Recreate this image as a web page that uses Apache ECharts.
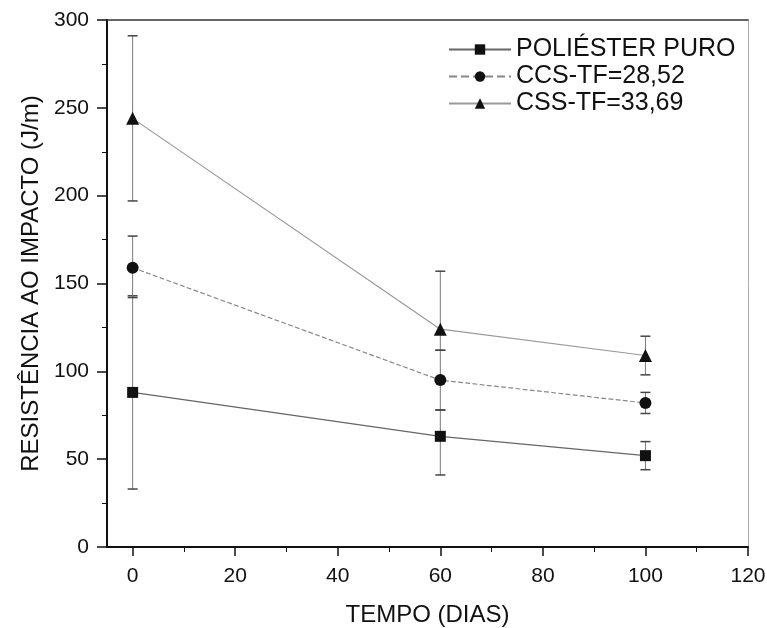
<!DOCTYPE html>
<html>
<head>
<meta charset="utf-8">
<script src="https://cdn.jsdelivr.net/npm/echarts@6/dist/echarts.min.js"></script>
<style>html,body{margin:0;padding:0;background:#fff;}#c{width:767px;height:628px;}</style>
</head>
<body>
<div id="c"></div>
<script>
// Data
const days = [0, 60, 100];
const seriesNames = ['POLIÉSTER PURO', 'CCS-TF=28,52', 'CSS-TF=33,69'];
const puro = [88, 63, 52];
const puroLow = [33, 41, 44];
const puroHigh = [143, 78, 60];
const ccs = [159, 95, 82];
const ccsLow = [142, 78, 76];
const ccsHigh = [177, 112, 88];
const css = [244, 124, 109];
const cssLow = [197, 112, 98];
const cssHigh = [291, 157, 120];
const xTicks = [0, 20, 40, 60, 80, 100, 120];
const xMinorTicks = [10, 30, 50, 70, 90, 110];

const FONT = '"Liberation Sans", Arial, sans-serif';

function pts(v) { return days.map((d, i) => [d, v[i]]); }
function errData(lo, hi) { return days.map((d, i) => [d, lo[i], hi[i]]); }

function errRender(params, api) {
  const x = api.value(0);
  const p1 = api.coord([x, api.value(1)]);
  const p2 = api.coord([x, api.value(2)]);
  const cw = 5;
  const st = { stroke: '#777', lineWidth: 1 };
  const cs = { stroke: '#444', lineWidth: 1.5 };
  return {
    type: 'group',
    children: [
      { type: 'line', shape: { x1: p1[0], y1: p1[1], x2: p2[0], y2: p2[1] }, style: st },
      { type: 'line', shape: { x1: p1[0] - cw, y1: p1[1], x2: p1[0] + cw, y2: p1[1] }, style: cs },
      { type: 'line', shape: { x1: p2[0] - cw, y1: p2[1], x2: p2[0] + cw, y2: p2[1] }, style: cs }
    ]
  };
}

const chart = echarts.init(document.getElementById('c'), null, { renderer: 'canvas' });
const lineDefs = [
  { name: seriesNames[0], data: puro, symbol: 'rect', size: 11, lineType: 'solid', lineColor: '#666' },
  { name: seriesNames[1], data: ccs, symbol: 'circle', size: 12, lineType: 'dashed', lineColor: '#888' },
  { name: seriesNames[2], data: css, symbol: 'triangle', size: 13, lineType: 'solid', lineColor: '#999' }
];
const errDefs = [errData(puroLow, puroHigh), errData(ccsLow, ccsHigh), errData(cssLow, cssHigh)];

const series = [];
errDefs.forEach((d, i) => {
  series.push({
    type: 'custom', name: 'err' + i, renderItem: errRender, data: d,
    encode: { x: 0, y: [1, 2] }, z: 1, silent: true
  });
});
lineDefs.forEach(s => {
  series.push({
    type: 'line', name: s.name, data: pts(s.data), symbol: s.symbol, symbolSize: s.size,
    showAllSymbol: true, z: 3,
    itemStyle: { color: '#111' },
    lineStyle: { color: s.lineColor, width: 1.2, type: s.lineType }
  });
});

chart.setOption({
  animation: false,
  backgroundColor: '#fff',
  grid: { left: 107, right: 19, top: 20, bottom: 81, containLabel: false, outerBoundsMode: 'none' },
  legend: {
    data: seriesNames, orient: 'vertical', left: 443, top: 32,
    itemWidth: 62, itemHeight: 13, itemGap: 2,
    textStyle: { fontFamily: FONT, fontSize: 25, color: '#111', lineHeight: 25 }
  },
  xAxis: [
    {
      type: 'value', min: -5, max: 120,
      name: 'TEMPO (DIAS)', nameLocation: 'middle', nameGap: 56,
      nameTextStyle: { fontFamily: FONT, fontSize: 24, color: '#111' },
      axisLine: { show: true, onZero: false, lineStyle: { color: '#111', width: 2 } },
      axisTick: { show: true, inside: false, length: 9, customValues: xTicks, lineStyle: { color: '#111', width: 1.5 } },
      axisLabel: { customValues: xTicks, margin: 19, fontFamily: FONT, fontSize: 21, color: '#111' },
      splitLine: { show: false }
    },
    {
      type: 'value', min: -5, max: 120, position: 'bottom',
      axisLine: { show: false },
      axisTick: { show: true, inside: false, length: 5, customValues: xMinorTicks, lineStyle: { color: '#111', width: 1 } },
      axisLabel: { show: false }, splitLine: { show: false }
    },
    {
      type: 'value', min: -5, max: 120, position: 'top',
      axisLine: { show: true, onZero: false, lineStyle: { color: '#333', width: 1.5 } },
      axisTick: { show: false }, axisLabel: { show: false }, splitLine: { show: false }
    }
  ],
  yAxis: [
    {
      type: 'value', min: 0, max: 300, interval: 50,
      name: 'RESISTÊNCIA AO IMPACTO (J/m)', nameLocation: 'middle', nameGap: 57,
      nameTextStyle: { fontFamily: FONT, fontSize: 24, color: '#111' },
      axisLine: { show: true, onZero: false, lineStyle: { color: '#111', width: 2 } },
      axisTick: { show: true, inside: false, length: 10, lineStyle: { color: '#111', width: 1.5 } },
      minorTick: { show: true, splitNumber: 2, length: 5, lineStyle: { color: '#111', width: 1 } },
      axisLabel: { margin: 18, fontFamily: FONT, fontSize: 21, color: '#111' },
      splitLine: { show: false }
    },
    {
      type: 'value', min: 0, max: 300, position: 'right',
      axisLine: { show: true, onZero: false, lineStyle: { color: '#aaa', width: 1 } },
      axisTick: { show: false }, axisLabel: { show: false }, splitLine: { show: false }
    }
  ],
  series: series
});
</script>
</body>
</html>
